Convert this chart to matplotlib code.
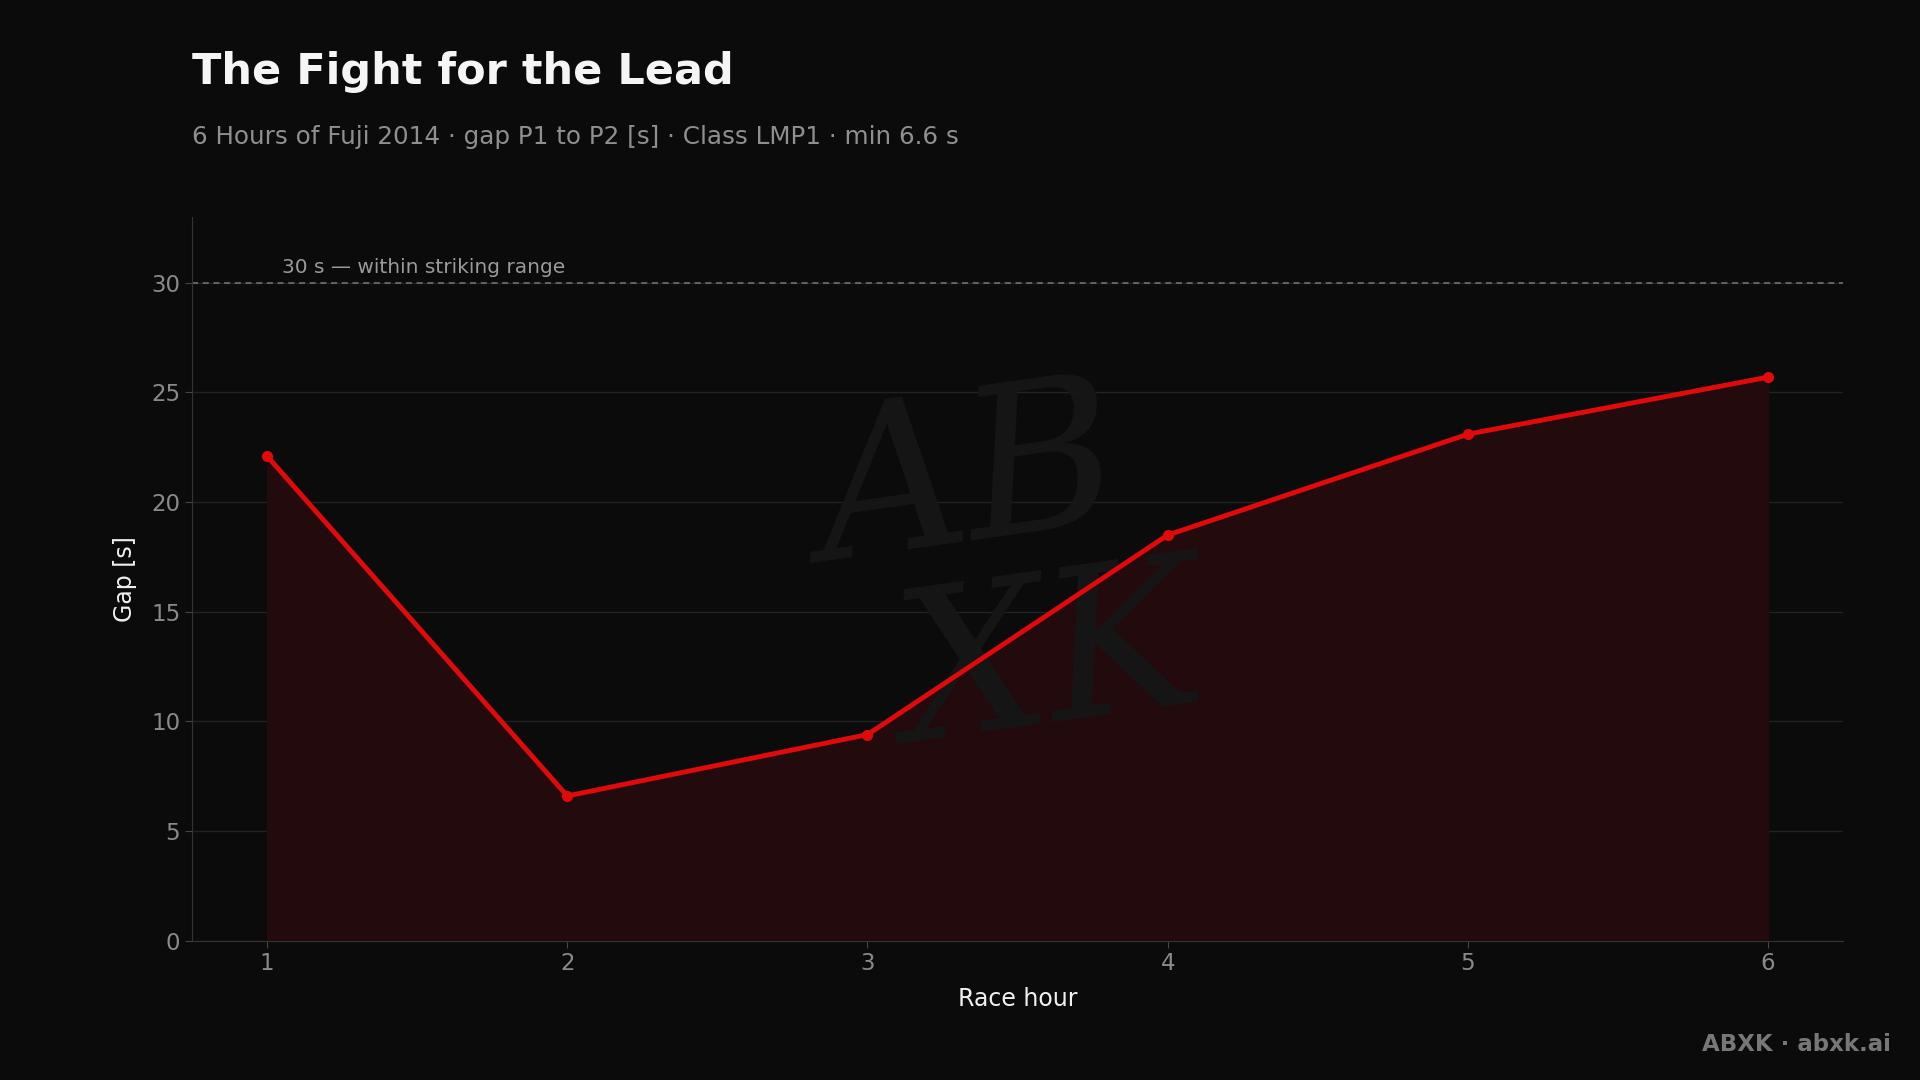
import matplotlib
matplotlib.use("Agg")
import matplotlib.pyplot as plt

# Data
hours = [1, 2, 3, 4, 5, 6]
gap = [22.1, 6.6, 9.4, 18.5, 23.1, 25.7]
threshold = 30

BG = "#0b0b0b"
RED = "#e00a0a"

fig = plt.figure(figsize=(19.2, 10.8), dpi=100, facecolor=BG)
ax = fig.add_axes([0.1, 0.129, 0.86, 0.67], facecolor=BG)

ax.fill_between(hours, gap, 0, color="#230a0c", zorder=1)

# faint watermark, two lines like the signature
ax.text(0.47, 0.63, "AB", transform=ax.transAxes, fontsize=150, color="#161616",
        style="italic", ha="center", va="center", rotation=8, zorder=1.5,
        family="DejaVu Serif")
ax.text(0.52, 0.38, "XK", transform=ax.transAxes, fontsize=150, color="#161616",
        style="italic", ha="center", va="center", rotation=8, zorder=1.5,
        family="DejaVu Serif")

ax.plot(hours, gap, color=RED, lw=3.5, marker="o", ms=7, zorder=3)

ax.axhline(threshold, color="#777777", lw=1.1, ls=(0, (4, 3)), zorder=2)
ax.text(1.05, threshold + 0.25, "30 s — within striking range", color="#9a9a9a",
        fontsize=14.5, va="bottom", ha="left")

ax.set_xlim(0.75, 6.25)
ax.set_ylim(0, 33)
ax.set_xticks(hours)
ax.set_yticks(range(0, 31, 5))
ax.grid(axis="y", color="#222222", lw=1)
ax.set_axisbelow(True)
for s in ["top", "right"]:
    ax.spines[s].set_visible(False)
for s in ["left", "bottom"]:
    ax.spines[s].set_color("#333333")
ax.tick_params(axis="both", colors="#444444", labelcolor="#8a8a8a",
               labelsize=16.5, length=5)
ax.set_xlabel("Race hour", color="#f0f0f0", fontsize=17, labelpad=8)
ax.set_ylabel("Gap [s]", color="#f0f0f0", fontsize=17, labelpad=10)

fig.text(0.1, 0.933, "The Fight for the Lead", color="#f5f5f5", fontsize=31,
         fontweight="bold", va="center")
fig.text(0.1, 0.873, "6 Hours of Fuji 2014 · gap P1 to P2 [s] · Class LMP1 · min 6.6 s",
         color="#8f8f8f", fontsize=17.7, va="center")
fig.text(0.985, 0.033, "ABXK · abxk.ai", color="#777777", fontsize=16.5,
         fontweight="bold", ha="right", va="center")

fig.savefig("out.png", dpi=100, facecolor=BG)
